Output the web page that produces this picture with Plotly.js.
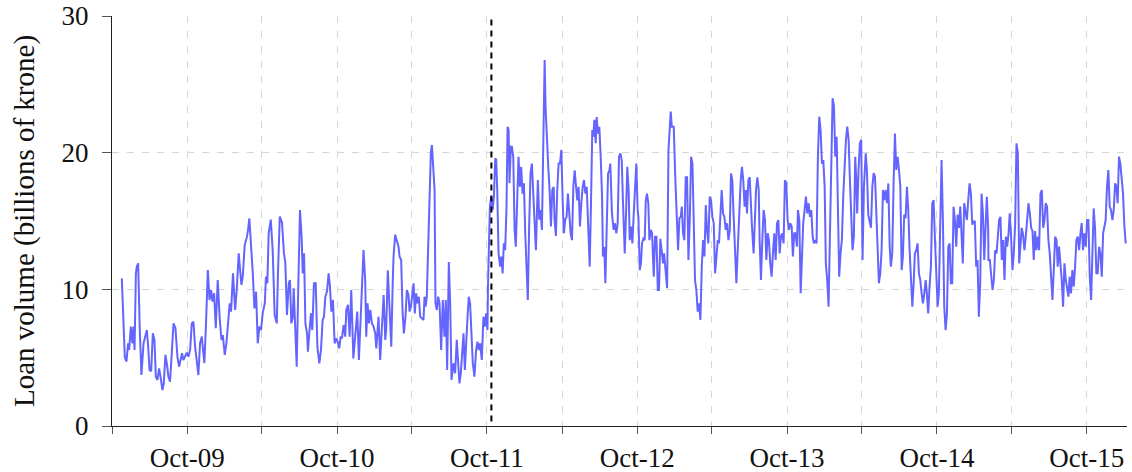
<!DOCTYPE html>
<html>
<head>
<meta charset="utf-8">
<script src="https://cdn.plot.ly/plotly-3.0.1.min.js"></script>
<style>
  html, body { margin: 0; padding: 0; background: #fff; }
  #chart { width: 1132px; height: 472px; }
</style>
</head>
<body>
<div id="chart"></div>
<script>
// Observation times as decimal years (e.g. 2011.5 = start of July 2011)
const obsTime = [
  2009.312, 2009.332, 2009.343, 2009.354, 2009.361, 2009.372, 2009.383, 2009.390, 2009.397, 2009.406,
  2009.412, 2009.421, 2009.432, 2009.443, 2009.457, 2009.466, 2009.479, 2009.488, 2009.497, 2009.508,
  2009.519, 2009.530, 2009.539, 2009.550, 2009.561, 2009.572, 2009.583, 2009.592, 2009.603, 2009.614,
  2009.623, 2009.634, 2009.646, 2009.657, 2009.670, 2009.683, 2009.694, 2009.706, 2009.714, 2009.723,
  2009.734, 2009.746, 2009.757, 2009.768, 2009.779, 2009.790, 2009.801, 2009.812, 2009.823, 2009.834,
  2009.846, 2009.854, 2009.863, 2009.874, 2009.886, 2009.897, 2009.908, 2009.917, 2009.928, 2009.939,
  2009.952, 2009.966, 2009.977, 2009.986, 2009.999, 2010.010, 2010.023, 2010.032, 2010.041, 2010.054,
  2010.068, 2010.079,
  2010.092, 2010.110, 2010.119, 2010.132, 2010.146, 2010.154, 2010.163, 2010.174, 2010.186, 2010.197,
  2010.208, 2010.219, 2010.230, 2010.241, 2010.252, 2010.266, 2010.274, 2010.283, 2010.292, 2010.306,
  2010.319, 2010.332, 2010.346, 2010.354, 2010.366, 2010.381, 2010.394, 2010.403, 2010.414, 2010.426,
  2010.434, 2010.443, 2010.452, 2010.459, 2010.468, 2010.479, 2010.490, 2010.501, 2010.512, 2010.519,
  2010.528, 2010.537, 2010.548, 2010.554, 2010.563, 2010.574, 2010.583, 2010.594, 2010.606, 2010.617,
  2010.630, 2010.641, 2010.652, 2010.661, 2010.670, 2010.681, 2010.692, 2010.701, 2010.710, 2010.721,
  2010.732, 2010.743, 2010.752, 2010.763, 2010.772, 2010.781, 2010.792, 2010.803, 2010.810, 2010.821,
  2010.832, 2010.843, 2010.857, 2010.870, 2010.883, 2010.894,
  2010.925, 2010.936, 2010.943, 2010.952, 2010.961, 2010.970, 2010.981, 2010.992, 2011.003, 2011.010,
  2011.019, 2011.025, 2011.036, 2011.047, 2011.059, 2011.070, 2011.076, 2011.087, 2011.099, 2011.110,
  2011.119, 2011.125, 2011.136, 2011.147, 2011.159, 2011.165, 2011.176, 2011.185, 2011.194, 2011.205,
  2011.214, 2011.225, 2011.232, 2011.241, 2011.250, 2011.259, 2011.267, 2011.276, 2011.285, 2011.294,
  2011.303, 2011.314, 2011.325, 2011.332, 2011.339, 2011.347, 2011.359, 2011.365, 2011.374, 2011.381,
  2011.390, 2011.399, 2011.405, 2011.414, 2011.423, 2011.432, 2011.443, 2011.454, 2011.465, 2011.474,
  2011.483, 2011.494, 2011.503, 2011.512, 2011.525, 2011.536, 2011.547, 2011.556, 2011.565, 2011.574,
  2011.583, 2011.592, 2011.601, 2011.610, 2011.619, 2011.627, 2011.636, 2011.643, 2011.654, 2011.665,
  2011.676, 2011.685, 2011.694, 2011.703, 2011.714, 2011.725, 2011.734, 2011.743, 2011.752,
  2011.755, 2011.768, 2011.777, 2011.786, 2011.795, 2011.804, 2011.810, 2011.817, 2011.826, 2011.837,
  2011.844, 2011.853, 2011.861, 2011.870, 2011.879, 2011.886, 2011.893, 2011.899, 2011.908, 2011.915,
  2011.924, 2011.933, 2011.941, 2011.950, 2011.959, 2011.968, 2011.977, 2011.986, 2011.995, 2012.004,
  2012.015, 2012.021, 2012.030, 2012.039, 2012.048, 2012.057, 2012.066, 2012.075, 2012.084, 2012.088,
  2012.097, 2012.106, 2012.115, 2012.124, 2012.133, 2012.139, 2012.148, 2012.157, 2012.166, 2012.175,
  2012.184, 2012.193, 2012.199, 2012.208, 2012.217, 2012.226, 2012.235, 2012.244, 2012.253, 2012.261,
  2012.270, 2012.279, 2012.288, 2012.297, 2012.306, 2012.315, 2012.324, 2012.333, 2012.341, 2012.350,
  2012.359, 2012.368, 2012.377, 2012.386, 2012.395, 2012.404, 2012.413, 2012.421, 2012.433, 2012.441,
  2012.450, 2012.457, 2012.464, 2012.473, 2012.479, 2012.488, 2012.497, 2012.506, 2012.515, 2012.521,
  2012.530, 2012.537, 2012.546, 2012.555, 2012.564, 2012.570,
  2012.581, 2012.592, 2012.601, 2012.610, 2012.619, 2012.628, 2012.637, 2012.646, 2012.654, 2012.666,
  2012.674, 2012.683, 2012.692, 2012.699, 2012.708, 2012.717, 2012.726, 2012.734, 2012.743, 2012.752,
  2012.757, 2012.766, 2012.774, 2012.781, 2012.790, 2012.799, 2012.806, 2012.814, 2012.823, 2012.830,
  2012.839, 2012.848, 2012.859, 2012.868, 2012.877, 2012.886, 2012.894, 2012.903, 2012.912, 2012.921,
  2012.928, 2012.937, 2012.948, 2012.957, 2012.966, 2012.972, 2012.979, 2012.992, 2013.003, 2013.012,
  2013.021, 2013.030, 2013.039, 2013.046, 2013.054, 2013.063, 2013.072, 2013.081, 2013.090, 2013.099,
  2013.108, 2013.117, 2013.126, 2013.134, 2013.143, 2013.152, 2013.161, 2013.170, 2013.179, 2013.188,
  2013.197, 2013.206, 2013.214, 2013.223, 2013.232, 2013.241, 2013.250, 2013.259, 2013.268, 2013.277,
  2013.286, 2013.294, 2013.303, 2013.312, 2013.321, 2013.330, 2013.339, 2013.348, 2013.357, 2013.366,
  2013.374, 2013.383, 2013.392, 2013.401, 2013.410, 2013.419, 2013.428,
  2013.439, 2013.447, 2013.456, 2013.465, 2013.474, 2013.481, 2013.490, 2013.499, 2013.505, 2013.514,
  2013.525, 2013.532, 2013.541, 2013.550, 2013.559, 2013.565, 2013.574, 2013.583, 2013.592, 2013.601,
  2013.610, 2013.619, 2013.627, 2013.636, 2013.645, 2013.654, 2013.663, 2013.672, 2013.681, 2013.690,
  2013.699, 2013.707, 2013.716, 2013.725, 2013.734, 2013.743, 2013.752, 2013.761, 2013.770, 2013.779,
  2013.787, 2013.796, 2013.805, 2013.814, 2013.821, 2013.830, 2013.839, 2013.847, 2013.856, 2013.865,
  2013.874, 2013.883, 2013.892, 2013.901, 2013.910, 2013.919, 2013.927, 2013.936, 2013.945, 2013.954,
  2013.963, 2013.972, 2013.981, 2013.990, 2013.999, 2014.007, 2014.016, 2014.025, 2014.034, 2014.043,
  2014.052, 2014.061, 2014.070, 2014.079, 2014.087, 2014.096, 2014.105, 2014.114, 2014.123, 2014.132,
  2014.141, 2014.150, 2014.159, 2014.167, 2014.176, 2014.185, 2014.194, 2014.203, 2014.210, 2014.216,
  2014.225, 2014.234, 2014.243, 2014.252, 2014.261,
  2014.273, 2014.281, 2014.290, 2014.299, 2014.308, 2014.317, 2014.326, 2014.335, 2014.344, 2014.353,
  2014.361, 2014.370, 2014.379, 2014.388, 2014.397, 2014.406, 2014.415, 2014.424, 2014.433, 2014.441,
  2014.450, 2014.459, 2014.468, 2014.477, 2014.486, 2014.495, 2014.504, 2014.513, 2014.521, 2014.530,
  2014.539, 2014.548, 2014.557, 2014.566, 2014.575, 2014.584, 2014.593, 2014.601, 2014.610, 2014.619,
  2014.628, 2014.637, 2014.646, 2014.655, 2014.664, 2014.673, 2014.681, 2014.690, 2014.699, 2014.708,
  2014.717, 2014.726, 2014.735, 2014.744, 2014.753, 2014.761, 2014.770, 2014.779, 2014.788, 2014.797,
  2014.806, 2014.815, 2014.824, 2014.833, 2014.841, 2014.850, 2014.859, 2014.868, 2014.877, 2014.886,
  2014.895, 2014.904, 2014.913, 2014.921, 2014.930, 2014.939, 2014.948, 2014.957, 2014.966, 2014.975,
  2014.984, 2014.993, 2015.001, 2015.010, 2015.019, 2015.028, 2015.037, 2015.046, 2015.055, 2015.064,
  2015.073, 2015.081, 2015.090,
  2015.092, 2015.101, 2015.110, 2015.119, 2015.128, 2015.137, 2015.146, 2015.154, 2015.163, 2015.172,
  2015.181, 2015.190, 2015.199, 2015.208, 2015.217, 2015.226, 2015.234, 2015.243, 2015.252, 2015.261,
  2015.270, 2015.279, 2015.288, 2015.297, 2015.306, 2015.314, 2015.323, 2015.332, 2015.341, 2015.350,
  2015.359, 2015.368, 2015.377, 2015.386, 2015.394, 2015.403, 2015.412, 2015.421, 2015.430, 2015.439,
  2015.448, 2015.457, 2015.466, 2015.474, 2015.483, 2015.492, 2015.501, 2015.510, 2015.519, 2015.528,
  2015.537, 2015.546, 2015.554, 2015.563, 2015.572, 2015.581, 2015.590, 2015.599, 2015.608, 2015.617,
  2015.626, 2015.634, 2015.643, 2015.652, 2015.661, 2015.670, 2015.679, 2015.688, 2015.697, 2015.706,
  2015.714, 2015.723, 2015.732, 2015.741, 2015.750, 2015.759, 2015.768, 2015.777, 2015.786, 2015.794,
  2015.803, 2015.812, 2015.821, 2015.830, 2015.839, 2015.848, 2015.857, 2015.866, 2015.874, 2015.883,
  2015.892, 2015.901, 2015.910, 2015.919, 2015.928, 2015.937, 2015.946, 2015.954, 2015.963, 2015.972,
  2015.981, 2015.990, 2015.999, 2016.008
];

// Loan volume, billions of krone
const loanVolume = [
  10.8, 5.07, 4.71, 6.05, 5.56, 7.27, 6.05, 7.27, 5.56, 11.17,
  11.66, 11.9, 7.02, 3.73, 6.05, 6.4, 7.02, 5.8, 4.1, 4.0,
  6.78, 6.29, 3.61, 3.37, 4.22, 3.5, 2.63, 3.12, 5.2, 4.45,
  3.61, 3.24, 5.32, 7.51, 7.15, 5.07, 4.34, 4.95, 5.32, 4.83,
  5.07, 5.37, 5.07, 5.6, 7.51, 7.63, 5.8, 4.59, 3.73, 6.05,
  6.54, 5.56, 4.59, 7.51, 11.41, 9.22, 9.95, 9.1, 9.71, 7.15,
  10.68, 7.75, 6.29, 6.66, 5.2, 6.05, 8.24, 8.98, 8.37, 11.17,
  8.49, 9.95,
  12.63, 10.32, 10.93, 13.24, 13.8, 14.3, 15.2, 13.5, 11.17, 8.61,
  9.83, 6.05, 7.27, 7.02, 8.24, 8.98, 10.93, 10.44, 14.1, 15.1,
  12.8, 8.12, 7.51, 11.17, 15.32, 14.9, 12.63, 12.0, 8.12, 10.44,
  10.68, 7.51, 7.88, 10.08, 7.51, 4.34, 10.44, 15.8, 13.8, 11.17,
  12.63, 7.51, 6.78, 5.44, 6.78, 8.24, 7.02, 10.44, 10.44, 5.8,
  4.59, 5.56, 7.76, 8.0, 9.46, 9.83, 11.17, 10.2, 8.37, 9.22,
  6.05, 6.42, 6.17, 5.68, 6.54, 6.42, 7.39, 6.54, 8.49, 8.86,
  6.54, 9.95, 4.95, 6.54, 8.37, 4.83,
  12.87, 10.68, 6.54, 8.98, 7.51, 8.49, 7.51, 7.27, 6.78, 5.68,
  7.76, 8.0, 4.83, 7.02, 9.58, 6.3, 7.02, 11.4, 8.98, 5.8,
  10.2, 12.4, 14.0, 13.6, 13.1, 12.4, 12.15, 8.49, 6.78, 8.0,
  9.95, 9.58, 8.37, 8.73, 9.58, 10.44, 8.24, 9.7, 8.98, 9.46,
  8.0, 7.88, 7.76, 9.46, 8.73, 9.46, 14.35, 17.27, 19.95, 20.56,
  19.2, 17.27, 8.98, 8.49, 9.46, 8.98, 5.56, 9.22, 6.54, 9.22,
  4.1, 12.0, 8.98, 3.37, 4.59, 3.86, 6.3, 4.83, 3.12, 3.86,
  5.07, 6.78, 4.1, 6.54, 8.0, 9.46, 8.98, 7.27, 4.59, 3.61,
  5.56, 6.17, 5.56, 6.05, 4.83, 8.0, 7.27, 8.24, 7.02,
  10.0, 16.05, 16.8, 15.8, 16.8, 19.58, 19.5, 17.27, 12.63, 11.66,
  12.4, 11.17, 13.36, 12.87, 16.05, 21.9, 21.66, 17.76, 20.44, 20.44,
  19.7, 14.35, 13.12, 16.05, 19.7, 17.5, 18.97, 17.0, 17.76, 14.1,
  11.17, 9.22, 14.6, 18.48, 19.2, 17.0, 14.35, 12.87, 16.5, 18.0,
  15.1, 15.8, 14.35, 20.44, 26.78, 23.4, 20.68, 18.97, 17.27, 14.6,
  17.27, 17.5, 15.1, 13.9, 17.27, 19.2, 19.2, 20.2, 16.5, 14.1,
  15.1, 15.3, 17.0, 15.6, 14.1, 13.6, 17.5, 18.7, 17.5, 16.5,
  17.5, 14.6, 16.3, 17.5, 18.0, 17.0, 17.5, 14.6, 11.66, 16.05,
  21.66, 21.17, 22.4, 20.7, 22.6, 21.4, 21.9, 19.7, 16.8, 12.4,
  13.1, 10.44, 15.56, 18.48, 18.7, 19.2,
  15.56, 14.35, 14.83, 14.1, 14.83, 19.7, 19.95, 19.46, 16.5, 12.63,
  15.3, 18.97, 17.27, 13.6, 14.6, 13.36, 15.56, 17.76, 19.2, 15.8,
  15.3, 11.4, 11.9, 13.36, 13.7, 13.6, 16.5, 17.0, 16.3, 13.6,
  14.35, 14.1, 10.93, 13.85, 13.85, 9.95, 9.95, 13.7, 12.63, 11.9,
  12.63, 11.66, 10.08, 20.2, 22.4, 23.0, 21.9, 21.9, 17.98, 15.3,
  12.87, 15.2, 15.3, 16.05, 14.1, 13.6, 18.2, 18.2, 12.15, 15.07,
  19.7, 19.2, 14.1, 10.68, 9.95, 8.37, 8.98, 7.76, 11.66, 13.6,
  12.4, 16.17, 14.35, 13.36, 16.78, 16.5, 15.3, 14.83, 11.17, 12.15,
  13.6, 13.36, 15.3, 17.27, 15.56, 15.3, 14.35, 14.83, 13.6, 14.35,
  18.48, 17.98, 15.3, 12.87, 10.44, 12.87, 15.56,
  17.98, 18.97, 17.98, 16.05, 17.27, 15.56, 17.98, 18.2, 16.5, 14.6,
  12.63, 15.56, 17.27, 18.2, 17.27, 13.61, 10.68, 13.61, 15.8, 15.07,
  12.15, 14.1, 13.61, 11.9, 10.93, 12.63, 14.1, 12.15, 14.83, 15.07,
  12.63, 13.85, 14.1, 13.36, 17.98, 17.76, 15.07, 14.35, 14.83, 14.6,
  12.4, 14.1, 14.1, 13.12, 15.8, 15.07, 9.71, 12.15, 14.83, 15.8,
  16.78, 15.56, 16.3, 15.3, 15.8, 13.85, 13.36, 13.61, 13.36, 19.7,
  22.63, 21.66, 19.2, 19.46, 17.5, 11.9, 10.68, 8.73, 13.12, 19.7,
  23.98, 23.4, 19.7, 21.17, 14.35, 10.93, 12.63, 13.61, 16.78, 18.97,
  20.93, 21.9, 20.93, 18.2, 15.07, 12.87, 13.85, 19.7, 17.98, 15.56,
  18.73, 20.68, 20.93, 12.15, 17.5,
  19.95, 18.73, 15.46, 14.97, 14.5, 17.5, 18.5, 18.24, 15.56, 13.12,
  10.44, 11.17, 12.87, 17.27, 16.53, 17.27, 16.3, 17.75, 13.12, 11.66,
  12.63, 17.75, 21.4, 18.73, 19.7, 18.73, 17.5, 11.41, 12.4, 15.46,
  15.2, 17.5, 15.8, 12.87, 10.68, 8.73, 10.44, 12.63, 12.87, 13.36,
  11.17, 10.68, 9.71, 8.98, 9.71, 10.68, 9.71, 8.24, 10.2, 11.66,
  16.3, 16.53, 13.61, 10.68, 8.73, 9.71, 16.3, 19.46, 15.07, 8.73,
  7.02, 8.24, 13.12, 13.36, 10.44, 10.44, 16.05, 15.07, 13.12, 15.46,
  14.5, 16.05, 13.85, 11.9, 16.3, 15.8, 15.07, 16.53, 17.75, 17.0,
  14.73, 14.97, 14.97, 11.66, 12.15, 8.0, 10.44, 17.0, 15.56, 12.15,
  14.5, 16.78, 14.5,
  12.15, 12.15, 10.68, 9.95, 10.68, 12.87, 12.63, 14.1, 15.07, 15.3,
  12.15, 13.61, 10.68, 13.85, 13.12, 14.1, 15.56, 13.85, 11.41, 12.63,
  14.73, 20.68, 19.95, 11.9, 13.12, 14.5, 14.02, 12.87, 13.85, 15.07,
  16.3, 15.56, 14.5, 14.26, 12.15, 14.26, 12.87, 13.85, 12.87, 17.0,
  17.27, 14.5, 15.07, 16.3, 16.05, 13.61, 12.63, 10.93, 9.22, 11.41,
  13.85, 13.61, 11.66, 13.12, 11.9, 10.68, 8.73, 11.9, 10.68, 10.2,
  9.46, 10.93, 9.71, 11.41, 10.2, 11.66, 13.61, 13.85, 12.87, 14.1,
  14.85, 12.87, 14.1, 13.12, 15.07, 15.07, 10.93, 9.22, 13.61, 15.92,
  14.5, 11.17, 11.17, 13.12, 12.63, 10.93, 14.1, 14.5, 15.07, 17.5,
  18.73, 16.05, 15.8, 15.07, 15.8, 17.75, 17.5, 16.3, 19.7, 19.2,
  17.75, 17.0, 14.6, 13.36
];

// Half-yearly ticks; only the October ones carry a label
const tickDates = ['2009-04-01', '2009-10-01', '2010-04-01', '2010-10-01', '2011-04-01', '2011-10-01',
                   '2012-04-01', '2012-10-01', '2013-04-01', '2013-10-01', '2014-04-01', '2014-10-01',
                   '2015-04-01', '2015-10-01'];
const tickLabels = ['', 'Oct-09', '', 'Oct-10', '', 'Oct-11', '', 'Oct-12', '', 'Oct-13', '', 'Oct-14', '', 'Oct-15'];

const yTicks = [0, 10, 20, 30];

// Date of the structural break marked by the dashed vertical line
const breakDate = '2011-10-12';

const axisRange = ['2009-04-01', '2016-01-07'];

function decimalYearToDate(t) {
  const y = Math.floor(t);
  const start = Date.UTC(y, 0, 1);
  const end = Date.UTC(y + 1, 0, 1);
  const d = new Date(start + (t - y) * (end - start));
  return d.toISOString().replace('T', ' ').slice(0, 19);
}

const serif = 'Liberation Serif, Times New Roman, serif';
const tickFont = { family: serif, size: 27, color: '#111' };

const trace = {
  type: 'scatter',
  mode: 'lines',
  x: obsTime.map(decimalYearToDate),
  y: loanVolume,
  line: { color: '#6464ff', width: 2 },
  hoverinfo: 'x+y'
};

const layout = {
  width: 1132,
  height: 472,
  margin: { l: 112, r: 5, t: 16, b: 46 },
  paper_bgcolor: '#ffffff',
  plot_bgcolor: '#ffffff',
  showlegend: false,
  xaxis: {
    type: 'date',
    range: axisRange,
    tickmode: 'array',
    tickvals: tickDates,
    ticktext: tickLabels,
    ticks: 'outside',
    ticklen: 7,
    tickwidth: 1,
    tickcolor: '#555',
    showline: true,
    linecolor: '#222',
    linewidth: 1.2,
    showgrid: true,
    gridcolor: '#d6d6d6',
    gridwidth: 1,
    griddash: '7px,8px',
    zeroline: false,
    tickfont: tickFont,
    ticklabelstandoff: 0
  },
  yaxis: {
    range: [0, 30],
    tickmode: 'array',
    tickvals: yTicks,
    ticktext: yTicks.map(String),
    ticks: 'outside',
    ticklen: 9,
    tickwidth: 1,
    tickcolor: '#555',
    showline: true,
    linecolor: '#222',
    linewidth: 1.2,
    showgrid: true,
    gridcolor: '#d6d6d6',
    gridwidth: 1,
    griddash: '7px,8px',
    zeroline: false,
    tickfont: tickFont,
    ticklabelstandoff: 8,
    title: {
      text: 'Loan volume (billions of krone)',
      font: { family: serif, size: 29, color: '#111' },
      standoff: 18
    }
  },
  shapes: [{
    type: 'line',
    xref: 'x',
    yref: 'y',
    x0: breakDate,
    x1: breakDate,
    y0: 29.75,
    y1: 0,
    line: { color: '#000', width: 2, dash: '6px,5px' }
  }]
};

Plotly.newPlot('chart', [trace], layout, { staticPlot: true, displayModeBar: false });
</script>
</body>
</html>
